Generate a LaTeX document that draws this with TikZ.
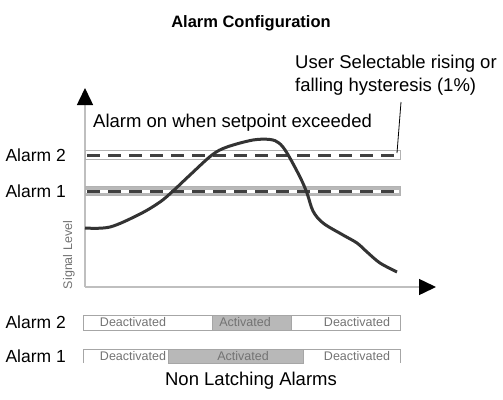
\documentclass[tikz,border=0pt]{standalone}
\usepackage{fontspec}
\setmainfont{Liberation Sans}
\usetikzlibrary{arrows.meta}
\tikzset{
  lbl/.style={font=\fontsize{18.5}{23}\selectfont, inner sep=0pt},
  side/.style={font=\fontsize{17.5}{20}\selectfont, inner sep=0pt, anchor=east},
  barlbl/.style={font=\fontsize{12.5}{14}\selectfont, text=black!55, inner sep=0pt},
  axisline/.style={black!25, line width=1.5pt, -{Triangle[length=17pt,width=16pt,black]}},
  band/.style={draw=black!30, line width=0.8pt},
  setpt/.style={black!75, line width=3pt, dash pattern=on 13pt off 8pt},
  barbox/.style={draw=black!35, line width=0.8pt}
}
\begin{document}
\begin{tikzpicture}[x=1pt,y=-1pt]
  \useasboundingbox (0,0) rectangle (503,399);
  \node [lbl, font=\bfseries\fontsize{16.5}{20}\selectfont] (title) at (251,23) {Alarm Configuration};

  % axes
  \coordinate (o) at (85,287);
  \coordinate (ytip) at (85,88);
  \coordinate (xtip) at (436,287);
  \draw [axisline] (o) -- (ytip);
  \draw [axisline] (o) -- (xtip);
  \node [barlbl, rotate=90] (lvl) at (69,255) {Signal Level};

  % setpoint bands
  \foreach \y/\c in {155/white,191/black!28}
  {
    \filldraw [band, fill=\c] (85,\y-4.5) rectangle (400,\y+4.5);
    \draw [white, line width=3pt] (86,\y) -- (399,\y);
    \draw [setpt] (87,\y) -- (399,\y);
  }
  \node [side] (a2) at (66,155) {Alarm 2};
  \node [side] (a1) at (66,191) {Alarm 1};
  \node [lbl, anchor=west] (on) at (93,123) {Alarm on when setpoint exceeded};
  \node [lbl, anchor=west, align=left] (hyst) at (295,75.5) {User Selectable rising or\\falling hysteresis (1\%)};
  \coordinate (hystfoot) at (401,102);
  \coordinate (bandend) at (397,153);
  \draw [black, line width=0.8pt] (hystfoot) -- (bandend);

  % signal
  \draw [black!80, line width=3pt, line join=round] plot [smooth, tension=0.55] coordinates
    {(85,228) (110,227) (140,214) (160,202) (173,191) (190,175) (212,155) (227,147)
     (253,140) (270,139.5) (279,143) (287,153) (300,177) (307,193) (313,211) (323,223)
     (343,235) (357,243) (367,252) (380,263) (397,272)};

  % alarm 2 bar
  \draw [barbox] (83,315) rectangle (400,330);
  \filldraw [barbox, fill=black!28] (212,315) rectangle (291,330);
  % alarm 1 bar
  \draw [barbox] (83,363) -- (83,349) -- (400,349) -- (400,363);
  \filldraw [barbox, fill=black!28] (168,349) rectangle (303,363);

  \node [barlbl] (off2a) at (133,322) {Deactivated};
  \node [barlbl] (on2) at (245,322) {Activated};
  \node [barlbl] (off2b) at (357,322) {Deactivated};
  \node [barlbl] (off1a) at (133,356) {Deactivated};
  \node [barlbl] (on1) at (243,356) {Activated};
  \node [barlbl] (off1b) at (357,356) {Deactivated};
  \node [side] (bar2) at (66,322) {Alarm 2};
  \node [side] (bar1) at (66,356) {Alarm 1};
  \node [lbl] (foot) at (251,381) {Non Latching Alarms};
\end{tikzpicture}
\end{document}
